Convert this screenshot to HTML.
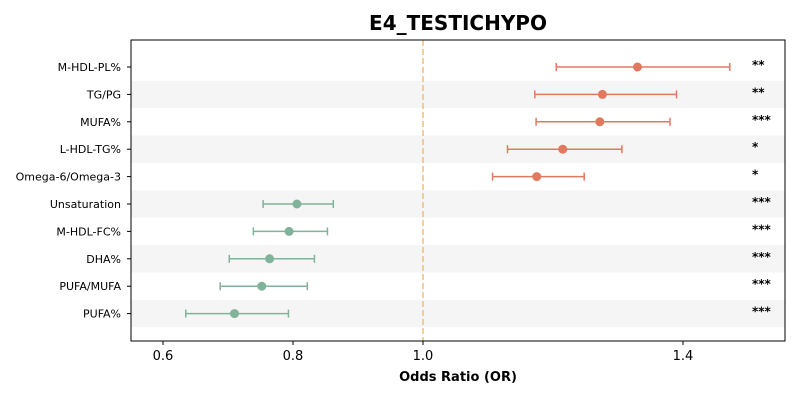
<!DOCTYPE html>
<html><head><meta charset="utf-8"><style>
body{margin:0;background:#fff;}
svg{display:block;font-family:"DejaVu Sans","Liberation Sans",sans-serif;}
</style></head><body>
<svg id="chart" width="800" height="400"></svg>
<script>
const labels=["M-HDL-PL%","TG/PG","MUFA%","L-HDL-TG%","Omega-6/Omega-3","Unsaturation","M-HDL-FC%","DHA%","PUFA/MUFA","PUFA%"];
const orVals=[1.33,1.276,1.272,1.215,1.175,0.806,0.794,0.764,0.752,0.71];
const ciLow=[1.205,1.172,1.174,1.13,1.107,0.754,0.739,0.702,0.688,0.635];
const ciHigh=[1.472,1.39,1.38,1.306,1.248,0.862,0.853,0.833,0.822,0.793];
const stars=["**","**","***","*","*","***","***","***","***","***"];
const xTicks=[0.6,0.8,1.0,1.4];
const xTickLabels=["0.6","0.8","1.0","1.4"];
const NS="http://www.w3.org/2000/svg";
const svg=document.getElementById('chart');
const L=131,R=785,T=40,B=341;
const x=v=>163+(v-0.6)*650;
const y=i=>67+i*27.4;
function el(tag,attrs,parent){const e=document.createElementNS(NS,tag);for(const k in attrs)e.setAttribute(k,attrs[k]);(parent||svg).appendChild(e);return e;}
labels.forEach((l,i)=>{if(i%2==1){const r=el('rect',{x:L,y:y(i)-13.7,width:R-L,height:27.4,fill:'#f5f5f5'});

}});
const ref=el('line',{x1:x(1),x2:x(1),y1:T,y2:B,stroke:'#f0c070','stroke-width':1.5,'stroke-dasharray':'6,3'});


labels.forEach((l,i)=>{
 const c=orVals[i]>1?'#e07a5f':'#81b29a';
 const g=el('g',{});
 
 
 el('line',{x1:x(ciLow[i]),x2:x(ciHigh[i]),y1:y(i),y2:y(i),stroke:c,'stroke-width':1.5},g);
 el('line',{x1:x(ciLow[i]),x2:x(ciLow[i]),y1:y(i)-4,y2:y(i)+4,stroke:c,'stroke-width':1.5},g);
 el('line',{x1:x(ciHigh[i]),x2:x(ciHigh[i]),y1:y(i)-4,y2:y(i)+4,stroke:c,'stroke-width':1.5},g);
 el('circle',{cx:x(orVals[i]),cy:y(i),r:4.5,fill:c},g);
 const s=el('text',{x:752,y:y(i)+2,'font-size':12,'font-weight':'bold',fill:'#000'});s.textContent=stars[i];
 
 
 const t=el('text',{x:L-10,y:y(i)+4,'font-size':11,'text-anchor':'end',fill:'#000'});t.textContent=l;
 
 
 el('line',{x1:L-4,x2:L,y1:y(i),y2:y(i),stroke:'#000'});
});
const frame=el('rect',{x:L,y:T,width:R-L,height:B-T,fill:'none',stroke:'#000','stroke-width':1});


xTicks.forEach((v,i)=>{el('line',{x1:x(v),x2:x(v),y1:B,y2:B+4,stroke:'#000'});
 const t=el('text',{x:x(v),y:B+19,'font-size':13,'text-anchor':'middle'});t.textContent=xTickLabels[i];
 
 });
const xt=el('text',{x:458,y:381,'font-size':13,'font-weight':'bold','text-anchor':'middle'});xt.textContent='Odds Ratio (OR)';


const ti=el('text',{x:458,y:30,'font-size':20,'font-weight':'bold','text-anchor':'middle'});ti.textContent='E4_TESTICHYPO';


</script>
</body></html>
